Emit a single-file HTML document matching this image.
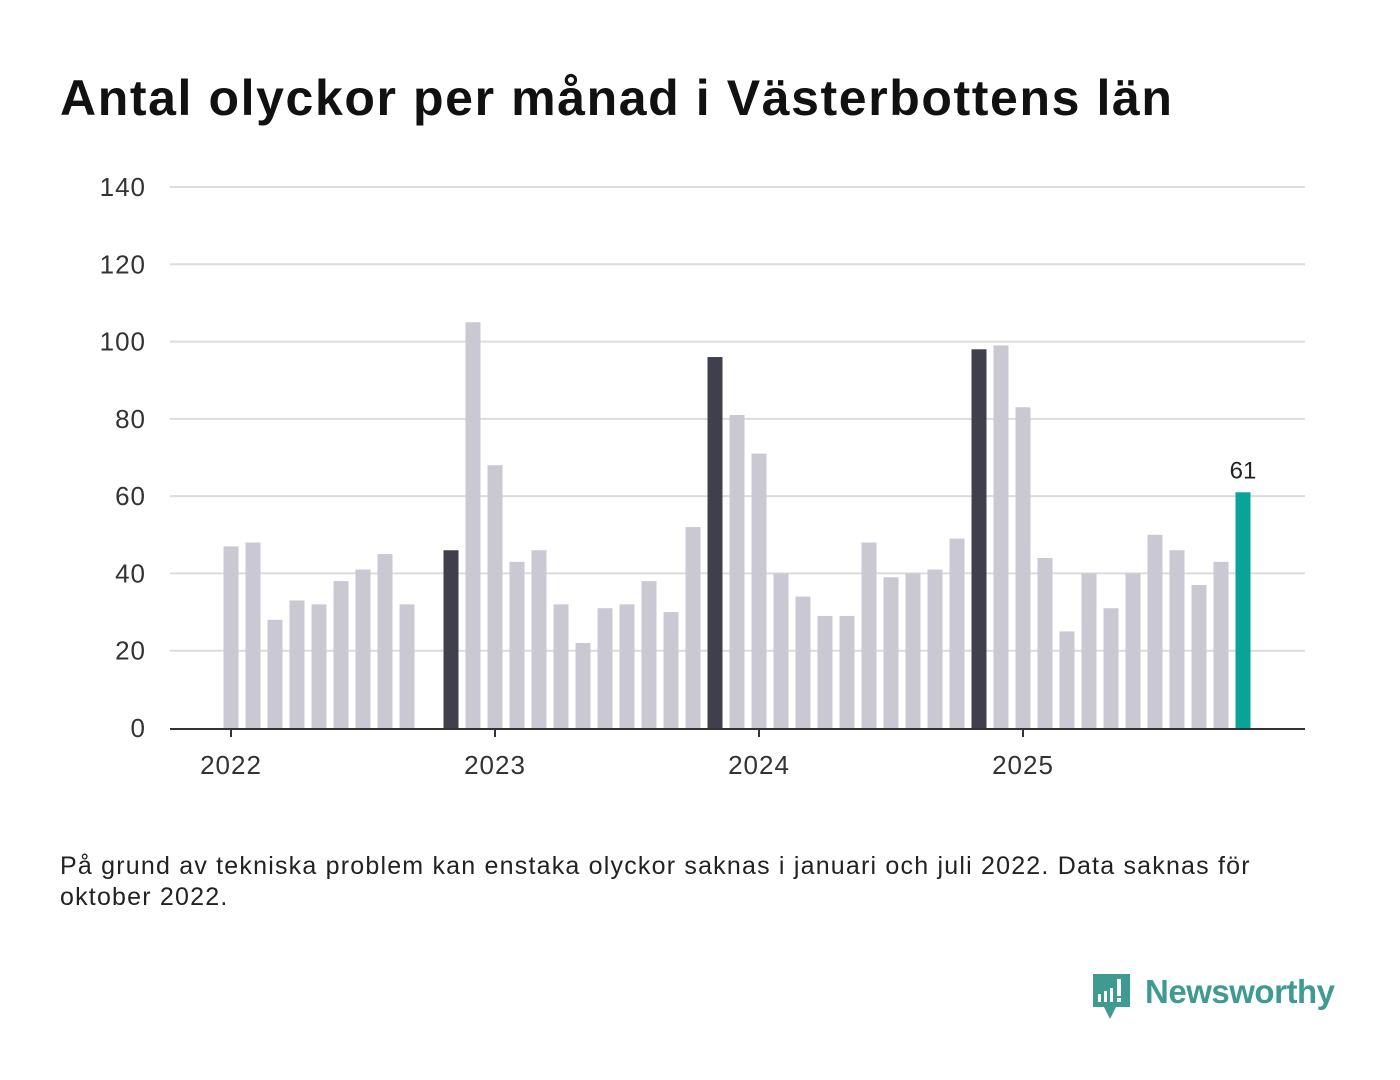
<!DOCTYPE html>
<html><head><meta charset="utf-8"><style>
body{margin:0;width:1400px;height:1080px;background:#fff;font-family:"Liberation Sans",sans-serif;position:relative;overflow:hidden}
#title{position:absolute;left:60px;top:69px;font-size:50px;font-weight:bold;color:#111;margin:0;letter-spacing:1.6px}
#note{position:absolute;left:60px;top:851px;width:1230px;font-size:25px;letter-spacing:1.2px;line-height:31px;color:#222}
svg{position:absolute;left:0;top:0}
</style></head><body>
<h1 id="title">Antal olyckor per månad i Västerbottens län</h1>
<svg id="chart" width="1400" height="1080"></svg>
<div id="note">På grund av tekniska problem kan enstaka olyckor saknas i januari och juli 2022. Data saknas för oktober 2022.</div>
<svg width="1400" height="1080">
<path d="M1093 974h37v33h-14l-6 12-6-12h-11z" fill="#3f9a92"/>
<rect x="1098" y="994" width="3" height="8" fill="#fff"/><rect x="1104" y="991" width="3" height="11" fill="#fff"/><rect x="1110" y="988" width="3" height="14" fill="#fff"/><rect x="1117" y="979" width="4" height="17" fill="#fff"/><rect x="1117" y="998" width="4" height="4" fill="#fff"/>
<text x="1145" y="1003" font-size="33" font-weight="bold" fill="#3f9a92" font-family="Liberation Sans, sans-serif" textLength="190">Newsworthy</text>
</svg>
<script>
const values=[47,48,28,33,32,38,41,45,32,null,46,105,68,43,46,32,22,31,32,38,30,52,96,81,71,40,34,29,29,48,39,40,41,49,98,99,83,44,25,40,31,40,50,46,37,43,61];
const highlight=[10,22,34];
const yTicks=[0,20,40,60,80,100,120,140];
const xTickLabels=["2022","2023","2024","2025"];
const xTickIndex=[0,12,24,36];
const NS="http://www.w3.org/2000/svg";
const svg=document.getElementById('chart');
const y0=728,yTop=187,yMax=140,x0=231,step=22,bw=15;
const y=v=>y0-(y0-yTop)*v/yMax;
const x=i=>x0+i*step;
function el(t,a){const e=document.createElementNS(NS,t);for(const k in a)e.setAttribute(k,a[k]);svg.appendChild(e);return e;}
yTicks.forEach(t=>{
 if(t>0){const g=el('line',{x1:170,x2:1305,y1:y(t),y2:y(t),stroke:'#dcdcdc','stroke-width':2});
 
 }
 const l=el('text',{x:146,y:y(t)+9,'text-anchor':'end','font-size':26,'letter-spacing':1,fill:'#333'});l.textContent=t;
 
 
});
values.forEach((v,i)=>{
 if(v==null)return;
 const last=i===values.length-1;
 const c=last?'#0aa398':highlight.includes(i)?'#403f4c':'#c9c8d3';
 const r=el('rect',{x:x(i)-bw/2,y:y(v),width:bw,height:y0-y(v),fill:c});
 
 
 if(last){const t=el('text',{x:x(i),y:y(v)-14,'text-anchor':'middle','font-size':24,fill:'#222'});t.textContent=v;
 
 }
});
const ax=el('line',{x1:170,x2:1305,y1:y0+1,y2:y0+1,stroke:'#333','stroke-width':2});


xTickIndex.forEach((ix,k)=>{
 const tk=el('line',{x1:x(ix),x2:x(ix),y1:y0,y2:y0+9,stroke:'#333','stroke-width':2});
 
 
 const l=el('text',{x:x(ix),y:y0+46,'text-anchor':'middle','font-size':26,'letter-spacing':1,fill:'#333'});l.textContent=xTickLabels[k];
 
 
});
</script>
</body></html>
